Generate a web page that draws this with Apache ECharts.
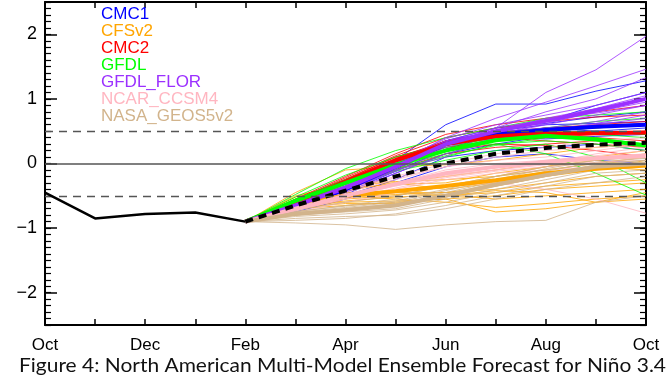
<!DOCTYPE html>
<html>
<head>
<meta charset="utf-8">
<script src="https://cdn.jsdelivr.net/npm/echarts@6/dist/echarts.min.js"></script>
<style>
html,body{margin:0;padding:0;background:#fff;}
#chart{width:671px;height:378px;}
</style>
</head>
<body>
<div id="chart"></div>
<script>
// ---- categories / ticks ----
const months = ['Oct','Nov','Dec','Jan','Feb','Mar','Apr','May','Jun','Jul','Aug','Sep','Oct'];
const yTickLabels = [-2, -1, 0, 1, 2];
const forecastStartIndex = 4; // Feb
const caption = 'Figure 4: North American Multi-Model Ensemble Forecast for Niño 3.4';

// ---- observed Niño 3.4 (Oct..Feb) ----
const observed = [-0.45, -0.85, -0.78, -0.76, -0.9];

// ---- multi-model ensemble mean (Feb..Oct) ----
const mmeMean = [-0.9, -0.65, -0.42, -0.2, 0.0, 0.15, 0.24, 0.29, 0.32];

// ---- CMC1 (Feb..Oct) ----
const cmc1Mean = [-0.9, -0.68, -0.4, -0.05, 0.3, 0.45, 0.52, 0.57, 0.6];
const cmc1Members = [
  [-0.9, -0.6, -0.3, 0.05, 0.6, 0.92, 0.92, 1.12, 1.28],
  [-0.9, -0.7, -0.42, -0.1, 0.28, 0.5, 0.65, 0.9, 1.1],
  [-0.9, -0.72, -0.48, -0.15, 0.15, 0.3, 0.42, 0.5, 0.55],
  [-0.9, -0.66, -0.38, 0.0, 0.35, 0.55, 0.62, 0.72, 0.8],
  [-0.9, -0.75, -0.55, -0.3, -0.05, 0.1, 0.15, 0.05, 0.0],
  [-0.9, -0.65, -0.35, -0.02, 0.3, 0.4, 0.38, 0.42, 0.45],
  [-0.9, -0.7, -0.45, -0.12, 0.22, 0.45, 0.55, 0.5, 0.48],
  [-0.9, -0.68, -0.4, -0.05, 0.35, 0.5, 0.6, 0.62, 0.65],
  [-0.9, -0.7, -0.5, -0.25, 0.1, 0.2, 0.25, 0.3, 0.2],
  [-0.9, -0.67, -0.36, 0.02, 0.33, 0.48, 0.55, 0.58, 0.62]
];

// ---- CFSv2 ----
const cfsv2Mean = [-0.9, -0.62, -0.5, -0.43, -0.35, -0.26, -0.15, -0.08, -0.03];
const cfsv2Members = [
  [-0.9, -0.45, -0.1, -0.05, -0.02, 0.05, 0.15, 0.25, 0.3],
  [-0.9, -0.52, -0.3, -0.28, -0.25, -0.2, -0.1, 0.0, 0.1],
  [-0.9, -0.6, -0.45, -0.45, -0.5, -0.45, -0.35, -0.3, -0.25],
  [-0.9, -0.58, -0.5, -0.55, -0.6, -0.68, -0.62, -0.55, -0.5],
  [-0.9, -0.62, -0.52, -0.48, -0.45, -0.35, -0.2, -0.1, 0.05],
  [-0.9, -0.65, -0.6, -0.58, -0.55, -0.75, -0.7, -0.6, -0.45],
  [-0.9, -0.55, -0.38, -0.32, -0.3, -0.15, -0.05, 0.1, 0.2],
  [-0.9, -0.68, -0.62, -0.62, -0.5, -0.42, -0.45, -0.6, -0.55],
  [-0.9, -0.5, -0.32, -0.3, -0.4, -0.3, -0.15, -0.05, -0.1],
  [-0.9, -0.64, -0.55, -0.5, -0.35, -0.2, -0.05, 0.05, 0.15],
  [-0.9, -0.6, -0.5, -0.45, -0.45, -0.4, -0.3, -0.2, -0.15],
  [-0.9, -0.7, -0.65, -0.6, -0.55, -0.5, -0.4, -0.35, -0.3],
  [-0.9, -0.57, -0.42, -0.3, -0.2, -0.1, 0.02, 0.05, -0.05],
  [-0.9, -0.66, -0.58, -0.52, -0.48, -0.55, -0.5, -0.45, -0.4]
];

// ---- CMC2 ----
const cmc2Mean = [-0.9, -0.6, -0.28, 0.05, 0.3, 0.42, 0.46, 0.47, 0.48];
const cmc2Members = [
  [-0.9, -0.55, -0.2, 0.15, 0.45, 0.6, 0.7, 0.8, 0.9],
  [-0.9, -0.6, -0.3, 0.0, 0.25, 0.35, 0.4, 0.45, 0.5],
  [-0.9, -0.62, -0.32, 0.05, 0.35, 0.48, 0.55, 0.6, 0.65],
  [-0.9, -0.58, -0.25, 0.1, 0.3, 0.4, 0.35, 0.3, 0.25],
  [-0.9, -0.65, -0.38, -0.1, 0.15, 0.25, 0.3, 0.35, 0.3],
  [-0.9, -0.57, -0.22, 0.12, 0.4, 0.55, 0.65, 0.72, 0.75],
  [-0.9, -0.63, -0.35, -0.05, 0.2, 0.3, 0.28, 0.2, 0.1],
  [-0.9, -0.6, -0.28, 0.08, 0.35, 0.45, 0.5, 0.55, 0.6],
  [-0.9, -0.62, -0.3, 0.02, 0.28, 0.4, 0.45, 0.4, 0.35],
  [-0.9, -0.56, -0.24, 0.1, 0.32, 0.42, 0.48, 0.5, 0.45]
];

// ---- GFDL ----
const gfdlMean = [-0.9, -0.58, -0.3, -0.02, 0.2, 0.36, 0.43, 0.37, 0.28];
const gfdlMembers = [
  [-0.9, -0.48, -0.08, 0.2, 0.4, 0.55, 0.7, 0.75, 0.8],
  [-0.9, -0.55, -0.25, 0.05, 0.3, 0.45, 0.5, 0.45, 0.4],
  [-0.9, -0.6, -0.35, -0.1, 0.1, 0.3, 0.15, -0.15, -0.49],
  [-0.9, -0.62, -0.38, -0.12, 0.05, 0.2, 0.3, 0.1, -0.3],
  [-0.9, -0.56, -0.28, 0.0, 0.25, 0.4, 0.5, 0.55, 0.6],
  [-0.9, -0.6, -0.32, -0.05, 0.15, 0.35, 0.45, 0.4, 0.3],
  [-0.9, -0.58, -0.3, -0.02, 0.22, 0.38, 0.48, 0.5, 0.45],
  [-0.9, -0.52, -0.18, 0.1, 0.3, 0.3, 0.35, 0.3, 0.2],
  [-0.9, -0.62, -0.35, -0.08, 0.12, 0.28, 0.4, 0.38, 0.3],
  [-0.9, -0.57, -0.3, -0.03, 0.2, 0.45, 0.55, 0.65, 0.7]
];

// ---- GFDL_FLOR ----
const florMean = [-0.9, -0.65, -0.38, -0.05, 0.3, 0.5, 0.66, 0.82, 1.0];
const florMembers = [
  [-0.9, -0.68, -0.42, -0.1, 0.1, 0.55, 1.1, 1.45, 1.97],
  [-0.9, -0.63, -0.35, 0.0, 0.4, 0.7, 0.95, 1.2, 1.46],
  [-0.9, -0.66, -0.4, -0.05, 0.3, 0.55, 0.8, 1.0, 1.33],
  [-0.9, -0.64, -0.36, -0.02, 0.35, 0.5, 0.65, 0.85, 1.05],
  [-0.9, -0.67, -0.4, -0.08, 0.25, 0.45, 0.6, 0.75, 0.9],
  [-0.9, -0.65, -0.38, -0.05, 0.28, 0.48, 0.55, 0.65, 0.8],
  [-0.9, -0.7, -0.45, -0.15, 0.15, 0.35, 0.5, 0.62, 0.75],
  [-0.9, -0.62, -0.33, 0.03, 0.38, 0.6, 0.75, 0.9, 1.1],
  [-0.9, -0.66, -0.4, -0.06, 0.3, 0.45, 0.62, 0.8, 0.95],
  [-0.9, -0.64, -0.37, -0.03, 0.32, 0.5, 0.7, 0.85, 1.0],
  [-0.9, -0.68, -0.42, -0.12, 0.2, 0.4, 0.52, 0.6, 0.7],
  [-0.9, -0.63, -0.35, 0.0, 0.35, 0.55, 0.68, 0.78, 0.9]
];

// ---- NCAR_CCSM4 ----
const ncarMean = [-0.9, -0.7, -0.5, -0.32, -0.15, -0.05, 0.02, 0.08, 0.12];
const ncarMembers = [
  [-0.9, -0.65, -0.4, -0.2, 0.0, 0.15, 0.25, 0.35, 0.4],
  [-0.9, -0.72, -0.55, -0.4, -0.25, -0.15, -0.1, -0.05, 0.0],
  [-0.9, -0.68, -0.45, -0.25, -0.05, 0.05, 0.1, 0.2, 0.3],
  [-0.9, -0.75, -0.6, -0.45, -0.35, -0.3, -0.4, -0.55, -0.77],
  [-0.9, -0.7, -0.5, -0.3, -0.1, 0.0, 0.05, 0.1, 0.15],
  [-0.9, -0.66, -0.42, -0.22, -0.05, 0.1, 0.2, 0.25, 0.3],
  [-0.9, -0.73, -0.55, -0.38, -0.22, -0.12, -0.05, 0.0, 0.1],
  [-0.9, -0.7, -0.48, -0.32, -0.18, -0.1, 0.0, 0.15, 0.25],
  [-0.9, -0.72, -0.52, -0.35, -0.2, -0.1, -0.02, 0.02, 0.05],
  [-0.9, -0.69, -0.5, -0.3, -0.15, -0.05, 0.05, 0.12, 0.2]
];

// ---- NASA_GEOS5v2 ----
const nasaMean = [-0.9, -0.78, -0.72, -0.65, -0.5, -0.33, -0.18, -0.05, 0.0];
const nasaMembers = [
  [-0.9, -0.92, -0.95, -1.02, -0.95, -0.9, -0.88, -0.6, -0.5],
  [-0.9, -0.75, -0.65, -0.55, -0.4, -0.2, -0.05, 0.05, 0.1],
  [-0.9, -0.8, -0.75, -0.7, -0.55, -0.4, -0.25, -0.1, -0.05],
  [-0.9, -0.72, -0.6, -0.5, -0.35, -0.2, -0.1, 0.0, 0.05],
  [-0.9, -0.85, -0.82, -0.8, -0.7, -0.55, -0.4, -0.3, -0.2],
  [-0.9, -0.78, -0.7, -0.62, -0.48, -0.3, -0.15, -0.02, 0.05],
  [-0.9, -0.82, -0.78, -0.72, -0.6, -0.45, -0.3, -0.15, -0.1],
  [-0.9, -0.76, -0.68, -0.6, -0.45, -0.28, -0.12, 0.02, 0.08],
  [-0.9, -0.88, -0.85, -0.78, -0.65, -0.5, -0.35, -0.2, -0.15],
  [-0.9, -0.74, -0.66, -0.58, -0.42, -0.25, -0.08, 0.05, 0.12],
  [-0.9, -0.8, -0.72, -0.65, -0.52, -0.35, -0.2, -0.08, -0.02]
];

// ---- model table (built from the arrays above) ----
const models = [
  { name: 'CMC1',         color: '#0000ff', members: cmc1Members,  mean: cmc1Mean },
  { name: 'CFSv2',        color: '#ffa500', members: cfsv2Members, mean: cfsv2Mean },
  { name: 'CMC2',         color: '#ff0000', members: cmc2Members,  mean: cmc2Mean },
  { name: 'GFDL',         color: '#00ff00', members: gfdlMembers,  mean: gfdlMean },
  { name: 'GFDL_FLOR',    color: '#9b30ff', members: florMembers,  mean: florMean },
  { name: 'NCAR_CCSM4',   color: '#ffb6c1', members: ncarMembers,  mean: ncarMean },
  { name: 'NASA_GEOS5v2', color: '#d2b48c', members: nasaMembers,  mean: nasaMean }
];

const toForecastPairs = arr => arr.map((v, i) => [forecastStartIndex + i, v]);
const toObsPairs = arr => arr.map((v, i) => [i, v]);

// minor tick positions (every 0.1) – layout only
const yMinorTicks = [];
for (let k = -25; k <= 25; k++) yMinorTicks.push(k / 10);

const series = [];
models.forEach(m => {
  m.members.forEach(mem => {
    series.push({
      name: m.name, type: 'line', data: toForecastPairs(mem),
      showSymbol: false, silent: true, z: 2,
      lineStyle: { color: m.color, width: 1, opacity: 0.8 },
      itemStyle: { color: m.color }
    });
  });
});
models.forEach(m => {
  series.push({
    name: m.name, type: 'line', data: toForecastPairs(m.mean),
    showSymbol: false, silent: true, z: 3,
    lineStyle: { color: m.color, width: 4 },
    itemStyle: { color: m.color }
  });
});
series.push({
  name: 'MME', type: 'line', data: toForecastPairs(mmeMean),
  showSymbol: false, silent: true, z: 4,
  lineStyle: { color: '#000', width: 4, type: [8, 6] }
});
series.push({
  name: 'Observed', type: 'line', data: toObsPairs(observed),
  showSymbol: false, silent: true, z: 5,
  lineStyle: { color: '#000', width: 2.5 },
  markLine: {
    silent: true, symbol: 'none', label: { show: false }, animation: false,
    data: [
      { yAxis: 0, lineStyle: { color: '#555', width: 1.5, type: 'solid' } },
      { yAxis: 0.5, lineStyle: { color: '#555', width: 1.3, type: [8, 6] } },
      { yAxis: -0.5, lineStyle: { color: '#555', width: 1.3, type: [8, 6] } }
    ]
  }
});

// caption fit
const captionFont = 'Lato';
const captionSize = 19;
const mctx = document.createElement('canvas').getContext('2d');
mctx.font = captionSize + 'px ' + captionFont;
const capW = mctx.measureText(caption).width || 600;
const capScale = 647 / capW;

const yFmt = v => (v < 0 ? '\u2212' + Math.abs(v) : String(v));
const gridBox = { left: 45, right: 25, top: 2, bottom: 53 };
const axisFont = 'Liberation Sans';

const option = {
  animation: false,
  backgroundColor: '#fff',
  grid: [Object.assign({}, gridBox), Object.assign({}, gridBox)],
  legend: {
    data: models.map(m => ({ name: m.name, textStyle: { color: m.color } })),
    orient: 'vertical', left: 90, top: 1,
    itemWidth: 0, itemHeight: 0, itemGap: 0,
    selectedMode: false,
    itemStyle: { opacity: 0 }, lineStyle: { opacity: 0 },
    textStyle: { fontFamily: axisFont, fontSize: 17, lineHeight: 16.3, padding: 0 }
  },
  xAxis: [
    {
      gridIndex: 0, type: 'value', min: 0, max: 12, interval: 1, position: 'bottom',
      axisLine: { onZero: false, lineStyle: { color: '#000', width: 2 } },
      axisTick: { inside: true, length: 6, lineStyle: { color: '#000', width: 1.5 } },
      axisLabel: {
        formatter: v => (v % 2 === 0 ? months[v] : ''),
        fontFamily: axisFont, fontSize: 17, color: '#000', margin: 12
      },
      splitLine: { show: false }
    },
    {
      gridIndex: 0, type: 'value', min: 0, max: 12, interval: 1, position: 'top',
      axisLine: { onZero: false, lineStyle: { color: '#000', width: 2 } },
      axisTick: { inside: true, length: 6, lineStyle: { color: '#000', width: 1.5 } },
      axisLabel: { show: false }, splitLine: { show: false }
    },
    { gridIndex: 1, type: 'value', min: 0, max: 12, show: false }
  ],
  yAxis: [
    {
      gridIndex: 0, type: 'value', min: -2.5, max: 2.5, position: 'left',
      axisLine: { show: true, onZero: false, lineStyle: { color: '#000', width: 2 } },
      axisTick: { show: true, inside: true, length: 6, customValues: yMinorTicks, lineStyle: { color: '#000', width: 1.2 } },
      axisLabel: { customValues: yTickLabels, formatter: yFmt, fontFamily: axisFont, fontSize: 18, color: '#000', margin: 8 },
      splitLine: { show: false }
    },
    {
      gridIndex: 0, type: 'value', min: -2.5, max: 2.5, position: 'right',
      axisLine: { show: true, onZero: false, lineStyle: { color: '#000', width: 2 } },
      axisTick: { show: true, inside: true, length: 6, customValues: yMinorTicks, lineStyle: { color: '#000', width: 1.2 } },
      axisLabel: { show: false }, splitLine: { show: false }
    },
    {
      gridIndex: 1, type: 'value', min: -2.5, max: 2.5, position: 'left',
      axisLine: { show: false },
      axisTick: { show: true, inside: true, length: 12, customValues: yTickLabels, lineStyle: { color: '#000', width: 1.5 } },
      axisLabel: { show: false }, splitLine: { show: false }
    },
    {
      gridIndex: 1, type: 'value', min: -2.5, max: 2.5, position: 'right',
      axisLine: { show: false },
      axisTick: { show: true, inside: true, length: 12, customValues: yTickLabels, lineStyle: { color: '#000', width: 1.5 } },
      axisLabel: { show: false }, splitLine: { show: false }
    }
  ],
  graphic: [
    {
      type: 'text', x: 342.5, y: 366, scaleX: capScale,
      style: {
        text: caption, x: 0, y: 0, textAlign: 'center', textVerticalAlign: 'middle',
        font: captionSize + 'px ' + captionFont, fill: '#111'
      }
    }
  ],
  series: series
};

const chart = echarts.init(document.getElementById('chart'), null, { renderer: 'canvas' });
chart.setOption(option);
</script>
</body>
</html>
